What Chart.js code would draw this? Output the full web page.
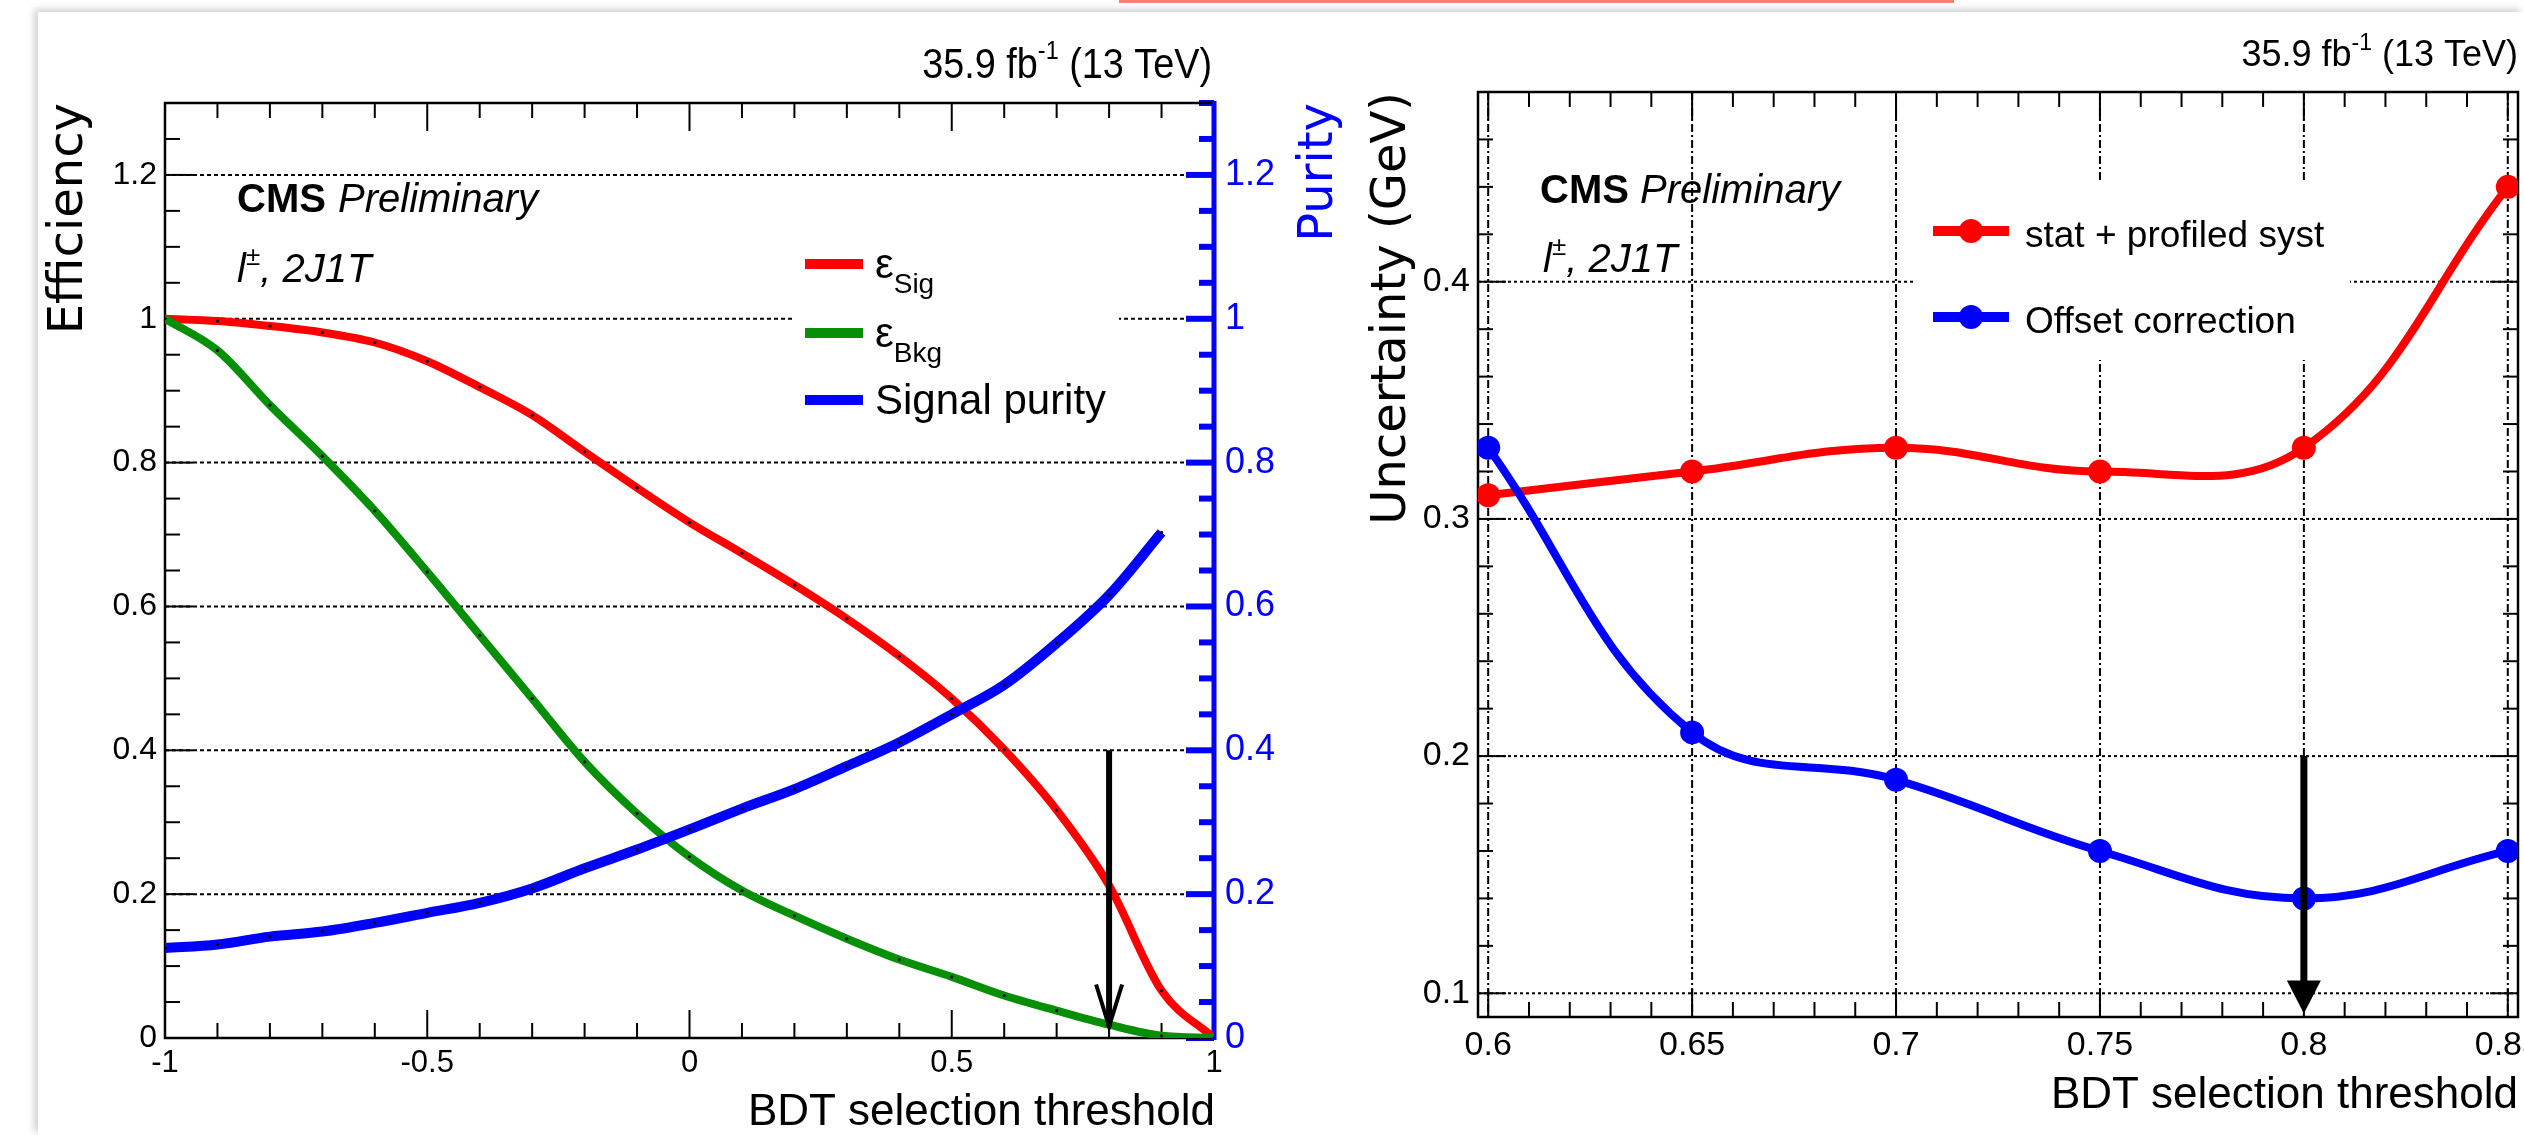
<!DOCTYPE html>
<html>
<head>
<meta charset="utf-8">
<script src="https://cdn.jsdelivr.net/npm/chart.js@4.4.1/dist/chart.umd.min.js"></script>
<style>
  body { margin: 0; width: 2524px; height: 1135px; overflow: hidden; background: #fff; position: relative; }
  #slide { position: absolute; left: 38px; top: 12px; right: 0; bottom: 0; box-shadow: -4px -3px 7px rgba(0,0,0,0.18); }
  #bar { position: absolute; left: 1119px; top: 0; width: 835px; height: 3px; background: #f4826e; }
  #left { position: absolute; left: 0; top: 0; }
  #right { position: absolute; left: 1290px; top: 0; }
</style>
</head>
<body>
<div id="slide"></div>
<div id="bar"></div>
<canvas id="left" width="1345" height="1135"></canvas>
<canvas id="right" width="1234" height="1135"></canvas>
<script>
// left panel: efficiencies and purity vs BDT cut
const bdtCut = [-1, -0.9, -0.8, -0.7, -0.6, -0.5, -0.4, -0.3, -0.2, -0.1, 0, 0.1, 0.2, 0.3, 0.4, 0.5, 0.6, 0.7, 0.8, 0.9, 1];
const effSig = [1.0, 0.997, 0.99, 0.981, 0.967, 0.941, 0.905, 0.866, 0.815, 0.765, 0.717, 0.674, 0.630, 0.583, 0.531, 0.472, 0.401, 0.317, 0.212, 0.066, 0.0];
const effBkg = [1.0, 0.956, 0.88, 0.809, 0.733, 0.648, 0.56, 0.472, 0.384, 0.312, 0.252, 0.205, 0.170, 0.138, 0.109, 0.085, 0.059, 0.038, 0.0185, 0.003, 0.0];
const purityCut = [-1, -0.9, -0.8, -0.7, -0.6, -0.5, -0.4, -0.3, -0.2, -0.1, 0, 0.1, 0.2, 0.3, 0.4, 0.5, 0.6, 0.7, 0.8, 0.9];
const purity = [0.125, 0.130, 0.141, 0.148, 0.160, 0.174, 0.188, 0.208, 0.236, 0.262, 0.290, 0.319, 0.346, 0.378, 0.411, 0.450, 0.491, 0.549, 0.616, 0.703];
const leftXTicks = [-1, -0.5, 0, 0.5, 1];
const leftYTicks = [0, 0.2, 0.4, 0.6, 0.8, 1, 1.2];
const leftNames = ['ε_Sig', 'ε_Bkg', 'Signal purity'];
const arrowLeft = [0.8, 0.4, 0.016];   // x, from, to

// right panel: uncertainty vs threshold
const thrCut = [0.6, 0.65, 0.7, 0.75, 0.8, 0.85];
const statSyst = [0.31, 0.32, 0.33, 0.32, 0.33, 0.44];
const offsetCorr = [0.33, 0.21, 0.19, 0.16, 0.14, 0.16];
const rightXTicks = [0.6, 0.65, 0.7, 0.75, 0.8, 0.85];
const rightYTicks = [0.1, 0.2, 0.3, 0.4];
const rightNames = ['stat + profiled syst', 'Offset correction'];
const arrowRight = [0.8, 0.2, 0.0915];

const FONT = "'Liberation Sans', Arial, Helvetica, sans-serif";
const TFONT = "'DejaVu Sans', Verdana, sans-serif";
const RED = '#ff0000', GREEN = '#079007', BLUE = '#0000ff';

const pts = (xs, ys) => ys.map((y, i) => ({ x: xs[i], y }));
const fixTicks = arr => s => { s.ticks = arr.map(v => ({ value: v })); };
const tickCb = v => String(v);

function drawParts(ctx, parts, x, y, align, sx) {
  sx = sx || 1;
  let w = 0;
  parts.forEach(p => { ctx.font = p.f; w += ctx.measureText(p.t).width; });
  ctx.save();
  ctx.translate(x, y);
  ctx.scale(sx, 1);
  ctx.textAlign = 'left';
  ctx.textBaseline = 'alphabetic';
  let cx = align === 'right' ? -w : 0;
  parts.forEach(p => {
    ctx.font = p.f;
    ctx.fillStyle = p.c || '#000';
    ctx.fillText(p.t, cx, p.dy || 0);
    cx += ctx.measureText(p.t).width;
  });
  ctx.restore();
}

function nameParts(name, size) {
  const [base, sub] = name.split('_');
  const out = [{ t: base, f: `${size + 4}px ${FONT}` }];
  if (sub) out.push({ t: sub, f: `${size - 10}px ${FONT}`, dy: 15 });
  return out;
}

// ROOT-like frame, inside ticks, grid, legend, labels and arrow
const rootFrame = {
  id: 'rootFrame',
  beforeDatasetsDraw(chart, args, o) {
    const ctx = chart.ctx, a = chart.chartArea;
    ctx.save();
    ctx.lineWidth = 2;
    ctx.strokeStyle = '#000';
    (o.grid || []).forEach(g => {
      const s = chart.scales[g.scale];
      ctx.setLineDash(g.dash);
      g.values.forEach(v => {
        const p = s.getPixelForValue(v);
        ctx.beginPath();
        if (s.isHorizontal()) { ctx.moveTo(p, a.top); ctx.lineTo(p, a.bottom); }
        else { ctx.moveTo(a.left, p); ctx.lineTo(a.right, p); }
        ctx.stroke();
      });
    });
    ctx.setLineDash([]);
    if (o.box) {
      ctx.fillStyle = '#fff';
      ctx.fillRect(a.left + o.box[0], a.top + o.box[1], o.box[2], o.box[3]);
    }
    (o.ticks || []).forEach(t => {
      const s = chart.scales[t.scale];
      ctx.strokeStyle = t.color || '#000';
      ctx.lineWidth = t.width || 2;
      const k0 = Math.ceil(s.min / t.minor - 1e-6), k1 = Math.floor(s.max / t.minor + 1e-6);
      for (let k = k0; k <= k1; k++) {
        const v = k * t.minor, r = v / t.major;
        const len = Math.abs(r - Math.round(r)) < 1e-6 ? 28 : 15;
        const p = s.getPixelForValue(v);
        t.sides.forEach(side => {
          ctx.beginPath();
          if (side === 'bottom') { ctx.moveTo(p, a.bottom); ctx.lineTo(p, a.bottom - len); }
          if (side === 'top') { ctx.moveTo(p, a.top); ctx.lineTo(p, a.top + len); }
          if (side === 'left') { ctx.moveTo(a.left, p); ctx.lineTo(a.left + len, p); }
          if (side === 'right') { ctx.moveTo(a.right, p); ctx.lineTo(a.right - len, p); }
          ctx.stroke();
        });
      }
    });
    ctx.strokeStyle = '#000';
    ctx.lineWidth = 2.5;
    ctx.strokeRect(a.left, a.top, a.right - a.left, a.bottom - a.top);
    if (o.rightColor) {
      ctx.strokeStyle = o.rightColor;
      ctx.lineWidth = 5;
      ctx.beginPath(); ctx.moveTo(a.right, a.top - 2); ctx.lineTo(a.right, a.bottom + 2); ctx.stroke();
    }
    ctx.restore();
  },
  afterDraw(chart, args, o) {
    const ctx = chart.ctx, a = chart.chartArea;
    const ref = { L: a.left, R: a.right, T: a.top, B: a.bottom };
    // arrow
    if (o.arrow) {
      const [ax, from, to] = o.arrow.values;
      const px = chart.scales.x.getPixelForValue(ax);
      const y0 = chart.scales.y.getPixelForValue(from), y1 = chart.scales.y.getPixelForValue(to);
      const st = o.arrow;
      ctx.save();
      ctx.strokeStyle = '#000'; ctx.fillStyle = '#000'; ctx.lineWidth = st.width;
      ctx.beginPath(); ctx.moveTo(px, y0); ctx.lineTo(px, st.filled ? y1 - st.len + 2 : y1); ctx.stroke();
      ctx.beginPath();
      ctx.moveTo(px - st.half, y1 - st.len); ctx.lineTo(px, y1); ctx.lineTo(px + st.half, y1 - st.len);
      if (st.filled) { ctx.closePath(); ctx.fill(); }
      else { ctx.lineWidth = 4; ctx.stroke(); }
      ctx.restore();
    }
    // legend
    if (o.legend) {
      const lg = o.legend;
      chart.data.datasets.forEach((ds, i) => {
        const y = a.top + lg.ys[i];
        ctx.save();
        ctx.strokeStyle = ds.borderColor; ctx.lineWidth = 10;
        ctx.beginPath(); ctx.moveTo(a.left + lg.x0, y); ctx.lineTo(a.left + lg.x1, y); ctx.stroke();
        if (lg.marker) {
          ctx.fillStyle = ds.borderColor;
          ctx.beginPath(); ctx.arc(a.left + (lg.x0 + lg.x1) / 2, y, lg.marker, 0, Math.PI * 2); ctx.fill();
        }
        ctx.restore();
        drawParts(ctx, nameParts(ds.label, lg.size), a.left + lg.tx, y + lg.dy, 'left');
      });
    }
    // free texts
    (o.texts || []).forEach(tx => {
      const x = ref[tx.ax] + tx.dx, y = ref[tx.ay] + tx.dy;
      if (tx.rot) {
        ctx.save();
        ctx.translate(x, y);
        ctx.rotate(-Math.PI / 2);
        ctx.font = tx.parts[0].f;
        ctx.fillStyle = tx.parts[0].c || '#000';
        ctx.textAlign = 'right';
        ctx.textBaseline = 'alphabetic';
        ctx.fillText(tx.parts[0].t, 0, 0);
        ctx.restore();
      } else {
        drawParts(ctx, tx.parts, x, y, tx.align, tx.sx);
      }
    });
  }
};

const baseOpts = {
  responsive: false,
  animation: false,
  devicePixelRatio: 1,
  events: []
};

function axis(min, max, ticks, size, padding, fit, color, position) {
  return {
    type: 'linear', min, max, position,
    afterBuildTicks: fixTicks(ticks),
    afterFit: s => {
      fit(s);
      // labels may overhang the box, no extra layout padding for them
      s.paddingLeft = s.paddingRight = s.paddingTop = s.paddingBottom = 0;
    },
    grid: { display: false, drawTicks: false },
    border: { display: false },
    ticks: { font: { family: FONT, size }, color: color || '#000', padding, maxRotation: 0, autoSkip: false, callback: tickCb }
  };
}

new Chart(document.getElementById('left'), {
  type: 'line',
  data: {
    datasets: [
      { label: leftNames[0], data: pts(bdtCut, effSig), borderColor: RED, borderWidth: 8, order: 3, yAxisID: 'y' },
      { label: leftNames[1], data: pts(bdtCut, effBkg), borderColor: GREEN, borderWidth: 8, order: 2, yAxisID: 'y' },
      { label: leftNames[2], data: pts(purityCut, purity), borderColor: BLUE, borderWidth: 10, order: 1, yAxisID: 'y2' }
    ].map(d => Object.assign(d, {
      cubicInterpolationMode: 'monotone', pointRadius: 1.6, pointBorderWidth: 0,
      pointBackgroundColor: '#000', fill: false
    }))
  },
  options: Object.assign({}, baseOpts, {
    layout: { padding: { top: 103, left: 0, right: 0, bottom: 0 }, autoPadding: false },
    plugins: {
      legend: { display: false },
      tooltip: { enabled: false },
      rootFrame: {
        grid: [{ scale: 'y', values: leftYTicks.slice(1), dash: [4, 3] }],
        box: [627, 122, 327, 215],
        ticks: [
          { scale: 'x', major: 0.5, minor: 0.1, sides: ['bottom', 'top'] },
          { scale: 'y', major: 0.2, minor: 0.05, sides: ['left'] },
          { scale: 'y2', major: 0.2, minor: 0.05, sides: ['right'], color: BLUE, width: 6 }
        ],
        rightColor: BLUE,
        arrow: { values: arrowLeft, width: 6, len: 42, half: 13, filled: false },
        legend: { x0: 640, x1: 698, tx: 710, ys: [161, 230, 297], dy: 14, size: 38 },
        texts: [
          { ax: 'R', dx: -2, ay: 'T', dy: -25, align: 'right', sx: 0.9, parts: [
            { t: '35.9 fb', f: `42px ${FONT}` }, { t: '-1', f: `26px ${FONT}`, dy: -19 }, { t: ' (13 TeV)', f: `42px ${FONT}` }] },
          { ax: 'L', dx: 72, ay: 'T', dy: 109, parts: [{ t: 'CMS', f: `bold 40px ${FONT}` }] },
          { ax: 'L', dx: 173, ay: 'T', dy: 109, parts: [{ t: 'Preliminary', f: `italic 40px ${FONT}` }] },
          { ax: 'L', dx: 72, ay: 'T', dy: 179, parts: [
            { t: 'l', f: `italic 40px ${FONT}` }, { t: '±', f: `italic 26px ${FONT}`, dy: -17 }, { t: ', 2J1T', f: `italic 40px ${FONT}` }] },
          { ax: 'R', dx: 1, ay: 'B', dy: 87, align: 'right', parts: [{ t: 'BDT selection threshold', f: `44px ${FONT}` }] },
          { ax: 'L', dx: -83, ay: 'T', dy: 0, rot: true, parts: [{ t: 'Efficiency', f: `48px ${TFONT}` }] },
          { ax: 'R', dx: 118, ay: 'T', dy: 0, rot: true, parts: [{ t: 'Purity', f: `48px ${TFONT}`, c: BLUE }] }
        ]
      }
    },
    scales: {
      x: axis(-1, 1, leftXTicks, 31, 7, s => { s.height = 97; }, '#000', 'bottom'),
      y: axis(0, 1.3, leftYTicks, 32, 8, s => { s.width = 165; }, '#000', 'left'),
      y2: axis(0, 1.3, leftYTicks, 36, 11, s => { s.width = 131; }, BLUE, 'right')
    }
  }),
  plugins: [rootFrame]
});

new Chart(document.getElementById('right'), {
  type: 'line',
  data: {
    datasets: [
      { label: rightNames[0], data: pts(thrCut, statSyst), borderColor: RED, pointBackgroundColor: RED, order: 2 },
      { label: rightNames[1], data: pts(thrCut, offsetCorr), borderColor: BLUE, pointBackgroundColor: BLUE, order: 1 }
    ].map(d => Object.assign(d, {
      borderWidth: 8, tension: 0.4, pointRadius: 12, pointBorderWidth: 0, fill: false
    }))
  },
  options: Object.assign({}, baseOpts, {
    layout: { padding: { top: 92, left: 0, right: 6, bottom: 0 }, autoPadding: false },
    plugins: {
      legend: { display: false },
      tooltip: { enabled: false },
      rootFrame: {
        grid: [
          { scale: 'y', values: rightYTicks, dash: [3, 3] },
          { scale: 'x', values: rightXTicks, dash: [8, 3, 2, 3] }
        ],
        box: [435, 91, 437, 177],
        ticks: [
          { scale: 'x', major: 0.05, minor: 0.01, sides: ['bottom', 'top'] },
          { scale: 'y', major: 0.1, minor: 0.02, sides: ['left', 'right'] }
        ],
        arrow: { values: arrowRight, width: 7, len: 33, half: 17, filled: true },
        legend: { x0: 455, x1: 531, tx: 547, ys: [139, 225], dy: 16, size: 33, marker: 12 },
        texts: [
          { ax: 'R', dx: 0, ay: 'T', dy: -26, align: 'right', parts: [
            { t: '35.9 fb', f: `36px ${FONT}` }, { t: '-1', f: `23px ${FONT}`, dy: -16 }, { t: ' (13 TeV)', f: `36px ${FONT}` }] },
          { ax: 'L', dx: 62, ay: 'T', dy: 111, parts: [{ t: 'CMS', f: `bold 40px ${FONT}` }] },
          { ax: 'L', dx: 162, ay: 'T', dy: 111, parts: [{ t: 'Preliminary', f: `italic 40px ${FONT}` }] },
          { ax: 'L', dx: 65, ay: 'T', dy: 180, parts: [
            { t: 'l', f: `italic 40px ${FONT}` }, { t: '±', f: `italic 26px ${FONT}`, dy: -17 }, { t: ', 2J1T', f: `italic 40px ${FONT}` }] },
          { ax: 'R', dx: 0, ay: 'B', dy: 91, align: 'right', parts: [{ t: 'BDT selection threshold', f: `44px ${FONT}` }] },
          { ax: 'L', dx: -73, ay: 'T', dy: 0, rot: true, parts: [{ t: 'Uncertainty (GeV)', f: `48px ${TFONT}` }] }
        ]
      }
    },
    scales: {
      x: axis(0.5975, 0.8525, rightXTicks, 34, 8, s => { s.height = 118; }, '#000', 'bottom'),
      y: axis(0.09, 0.48, rightYTicks, 34, 8, s => { s.width = 188; }, '#000', 'left')
    }
  }),
  plugins: [rootFrame]
});
</script>
</body>
</html>
